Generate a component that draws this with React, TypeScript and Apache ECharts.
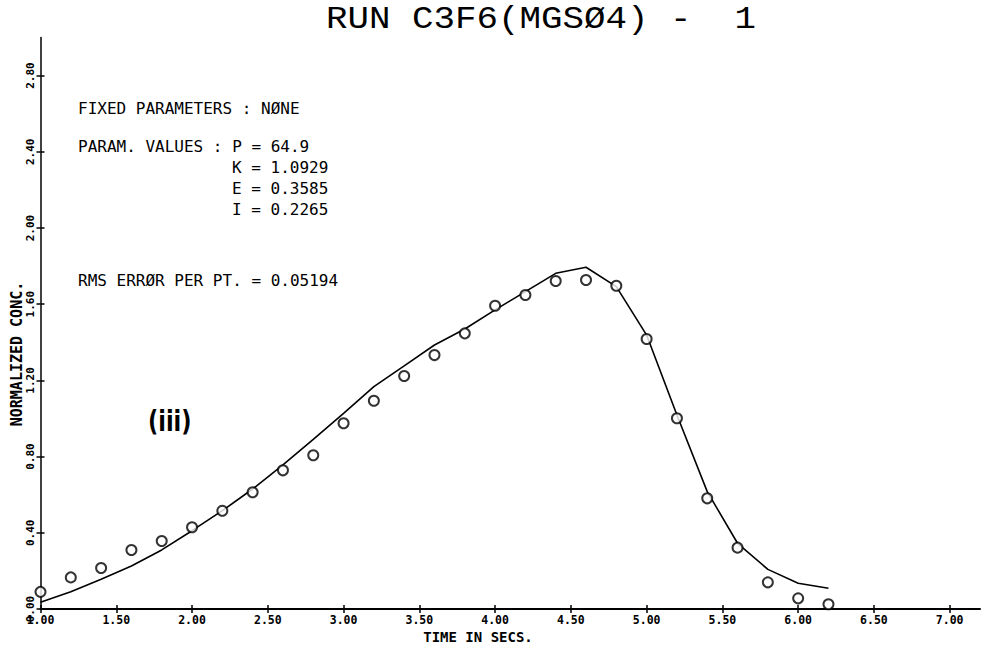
import React, { useEffect, useRef } from "react";
import * as echarts from "echarts";

const times = [1.0, 1.2, 1.4, 1.6, 1.8, 2.0, 2.2, 2.4, 2.6, 2.8, 3.0, 3.2, 3.4, 3.6, 3.8, 4.0, 4.2, 4.4, 4.6, 4.8, 5.0, 5.2, 5.4, 5.6, 5.8, 6.0, 6.2];
const observed = [0.09, 0.166, 0.215, 0.31, 0.357, 0.429, 0.516, 0.613, 0.728, 0.807, 0.975, 1.093, 1.223, 1.333, 1.447, 1.592, 1.648, 1.722, 1.727, 1.697, 1.417, 1.001, 0.581, 0.322, 0.14, 0.056, 0.025];
const fitted = [0.035, 0.091, 0.156, 0.226, 0.31, 0.411, 0.516, 0.63, 0.757, 0.89, 1.027, 1.167, 1.276, 1.386, 1.47, 1.57, 1.666, 1.762, 1.794, 1.692, 1.438, 1.018, 0.616, 0.345, 0.208, 0.135, 0.109];
const xTickValues = [1.0, 1.5, 2.0, 2.5, 3.0, 3.5, 4.0, 4.5, 5.0, 5.5, 6.0, 6.5, 7.0];
const yTickValues = [0.0, 0.4, 0.8, 1.2, 1.6, 2.0, 2.4, 2.8];

const titleText = "RUN C3F6(MGSØ4) -  1";
const xName = "TIME IN SECS.";
const yName = "NORMALIZED CONC.";
const infoLines = [
  "FIXED PARAMETERS : NØNE",
  "PARAM. VALUES : P = 64.9",
  "K = 1.0929",
  "E = 0.3585",
  "I = 0.2265",
  "RMS ERRØR PER PT. = 0.05194",
];
const annotation = "(iii)";

const MONO = "'DejaVu Sans Mono', monospace";
const THIN_MONO = "'Liberation Mono', 'DejaVu Sans Mono', monospace";

export default function App() {
  const ref = useRef<HTMLDivElement>(null);
  useEffect(() => {
    if (!ref.current) return;
    const chart = echarts.init(ref.current, undefined, { renderer: "svg" });
    const axisCommon = (min: number, max: number) => ({
      type: "value" as const,
      min,
      max,
      splitLine: { show: false },
    });
    const tickStyle = { color: "#000", width: 1.5 };
    const infoX = [78, 78, 232, 232, 232, 78];
    const infoY = [108, 146, 167, 188, 209, 280];
    chart.setOption({
      animation: false,
      backgroundColor: "#fff",
      grid: { left: 40.5, right: 3, top: 37.5, bottom: 39, containLabel: false, outerBoundsMode: "none" },
      xAxis: [
        {
          ...axisCommon(1, 7.2),
          axisLine: { lineStyle: { color: "#000", width: 2 } },
          axisTick: { customValues: xTickValues, length: 4, lineStyle: tickStyle },
          axisLabel: {
            customValues: xTickValues,
            formatter: (v: number) => v.toFixed(2),
            color: "#000",
            fontFamily: MONO,
            fontWeight: "bold",
            fontSize: 11.5,
            margin: 5,
          },
        },
        {
          ...axisCommon(1, 7.2),
          position: "bottom",
          axisLine: { show: false },
          axisTick: { customValues: xTickValues, inside: true, length: 4, lineStyle: tickStyle },
          axisLabel: { show: false },
        },
      ],
      yAxis: [
        {
          ...axisCommon(0, 3.0),
          axisLine: { lineStyle: { color: "#000", width: 1.5 } },
          axisTick: { customValues: yTickValues, length: 4, lineStyle: tickStyle },
          axisLabel: {
            customValues: yTickValues,
            formatter: (v: number) => v.toFixed(2),
            rotate: 90,
            color: "#000",
            fontFamily: MONO,
            fontWeight: "bold",
            fontSize: 11,
            margin: 5,
          },
        },
        {
          ...axisCommon(0, 3.0),
          position: "left",
          axisLine: { show: false },
          axisTick: { customValues: yTickValues, inside: true, length: 4, lineStyle: tickStyle },
          axisLabel: { show: false },
        },
      ],
      series: [
        {
          type: "line",
          name: "Fitted",
          xAxisIndex: 0,
          yAxisIndex: 0,
          data: times.map((t, i) => [t, fitted[i]]),
          symbol: "none",
          lineStyle: { color: "#000", width: 1.6 },
          z: 2,
        },
        {
          type: "scatter",
          name: "Observed",
          xAxisIndex: 0,
          yAxisIndex: 0,
          data: times.map((t, i) => [t, observed[i]]),
          symbol: "emptyCircle",
          symbolSize: 10,
          itemStyle: { color: "#000", borderColor: "#000", borderWidth: 1.5 },
          z: 3,
        },
      ],
      graphic: [
        {
          type: "text",
          x: 326,
          y: 20,
          scaleX: 1.12,
          style: {
            text: titleText,
            fontFamily: THIN_MONO,
            fontSize: 32,
            fill: "#000",
            textVerticalAlign: "middle",
          },
        },
        ...infoLines.map((line, i) => ({
          type: "text",
          x: infoX[i],
          y: infoY[i],
          style: {
            text: line,
            fontFamily: MONO,
            fontSize: 16,
            fill: "#000",
            textVerticalAlign: "middle",
          },
        })),
        {
          type: "text",
          x: 478,
          y: 637,
          style: {
            text: xName,
            fontFamily: MONO,
            fontWeight: "bold",
            fontSize: 14,
            fill: "#000",
            textAlign: "center",
            textVerticalAlign: "middle",
          },
        },
        {
          type: "text",
          x: 17,
          y: 354,
          rotation: Math.PI / 2,
          style: {
            text: yName,
            fontFamily: MONO,
            fontWeight: "bold",
            fontSize: 15,
            fill: "#000",
            textAlign: "center",
            textVerticalAlign: "middle",
          },
        },
        {
          type: "text",
          x: 148,
          y: 421,
          scaleX: 0.8,
          style: {
            text: annotation,
            fontFamily: "'DejaVu Sans', sans-serif",
            fontWeight: "bold",
            fontSize: 28,
            fill: "#000",
            textVerticalAlign: "middle",
          },
        },
      ],
    });
    return () => chart.dispose();
  }, []);
  return (
    <div
      ref={ref}
      style={{ position: "fixed", left: 0, top: 0, width: 983, height: 648, background: "#fff" }}
    />
  );
}
